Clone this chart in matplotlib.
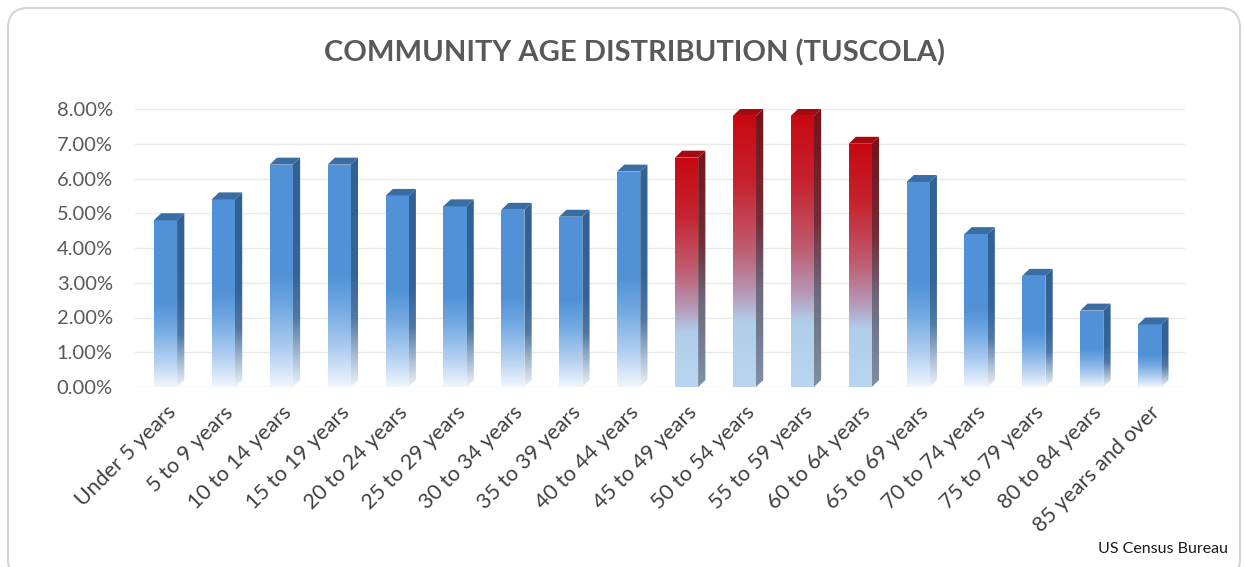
import numpy as np
import matplotlib
matplotlib.use("Agg")
import matplotlib.pyplot as plt
from matplotlib.colors import LinearSegmentedColormap
from matplotlib.patches import Polygon, FancyBboxPatch
from matplotlib.transforms import IdentityTransform

plt.rcParams['font.family'] = ['Lato', 'DejaVu Sans']

age_groups = ["Under 5 years", "5 to 9 years", "10 to 14 years", "15 to 19 years",
              "20 to 24 years", "25 to 29 years", "30 to 34 years", "35 to 39 years",
              "40 to 44 years", "45 to 49 years", "50 to 54 years", "55 to 59 years",
              "60 to 64 years", "65 to 69 years", "70 to 74 years", "75 to 79 years",
              "80 to 84 years", "85 years and over"]
share_pct = [4.9, 5.5, 6.5, 6.5, 5.6, 5.3, 5.2, 5.0, 6.3,
             6.7, 7.9, 7.9, 7.1, 6.0, 4.5, 3.3, 2.3, 1.9]
highlight = ["45 to 49 years", "50 to 54 years", "55 to 59 years", "60 to 64 years"]
y_ticks = [0, 1, 2, 3, 4, 5, 6, 7, 8]


def ramp(name, stops):
    return LinearSegmentedColormap.from_list(name, [(p, np.array(c) / 255) for p, c in stops])


# gradients run from the top of each face (0) to the floor (1)
blue_front = ramp("bf", [(0, (80, 145, 215)), (0.5, (82, 147, 216)), (0.64, (112, 168, 225)),
                         (0.84, (178, 207, 240)), (1, (240, 246, 253))])
blue_side = ramp("bs", [(0, (50, 97, 148)), (0.5, (52, 100, 152)), (0.7, (80, 120, 165)),
                        (0.88, (175, 194, 215)), (1, (238, 242, 247))])
red_front = ramp("rf", [(0, (200, 8, 18)), (0.25, (198, 35, 48)), (0.5, (190, 95, 115)),
                        (0.65, (182, 150, 180)), (0.76, (176, 205, 234)), (1, (185, 213, 240))])
red_side = ramp("rs", [(0, (118, 18, 24)), (0.4, (115, 45, 55)), (0.65, (110, 105, 125)),
                       (1, (125, 145, 165))])
blue_top = "#3A6DA3"
red_top = "#A50A12"

fig = plt.figure(figsize=(12.44, 5.67), dpi=100)
ax = fig.add_axes([135 / 1244, 180 / 567, 1050 / 1244, 278 / 567])

x = np.arange(len(age_groups))

for v in y_ticks:
    ax.axhline(v, color="#EAEAEA", lw=1.0, zorder=0)

half = 0.2     # half width of the front face
dx = 0.125     # depth shift to the right
dy = 0.2       # depth shift upwards


def shaded(poly, cmap, x0, x1, y0, y1):
    patch = Polygon(poly, closed=True, facecolor="none", edgecolor="none")
    ax.add_patch(patch)
    grad = np.linspace(0, 1, 256).reshape(-1, 1)
    im = ax.imshow(grad, cmap=cmap, extent=[x0, x1, y0, y1], aspect="auto",
                   origin="upper", interpolation="bicubic", zorder=2)
    im.set_clip_path(patch)


for xi, label, val in zip(x, age_groups, share_pct):
    hot = label in highlight
    front_c = red_front if hot else blue_front
    side_c = red_side if hot else blue_side
    top_c = red_top if hot else blue_top
    left, right = xi - half, xi + half
    top = val - dy / 2
    shaded([(left, 0), (right, 0), (right, top), (left, top)], front_c, left, right, 0, top)
    shaded([(right, 0), (right + dx, dy), (right + dx, top + dy), (right, top)],
           side_c, right, right + dx, 0, top + dy)
    ax.add_patch(Polygon([(left, top), (right, top), (right + dx, top + dy), (left + dx, top + dy)],
                         closed=True, facecolor=top_c, edgecolor="none", zorder=3))

ax.set_xlim(-0.527, 17.61)
ax.set_ylim(0, 8)
ax.set_yticks(y_ticks)
ax.set_yticklabels([f"{v:.2f}%" for v in y_ticks], fontsize=14.5, color="#595959")
ax.set_xticks(x)
ax.set_xticklabels(age_groups, rotation=45, ha="right", va="top", rotation_mode="anchor",
                   fontsize=15.5, color="#404040")
ax.tick_params(axis="y", length=0, pad=16)
ax.tick_params(axis="x", length=0, pad=11)
for s in ax.spines.values():
    s.set_visible(False)

fig.text(635 / 1244, 1 - 53 / 567, "COMMUNITY AGE DISTRIBUTION (TUSCOLA)", ha="center", va="center",
         fontsize=21, fontweight="bold", color="#595959")
fig.text(1228 / 1244, 1 - 553 / 567, "US Census Bureau", ha="right", va="baseline",
         fontsize=11.5, color="#1A1A1A")

frame = FancyBboxPatch((8, -12), 1232, 571, boxstyle="round,pad=0,rounding_size=20",
                       transform=IdentityTransform(), facecolor="none", edgecolor="#D4D4D4", lw=1.5)
fig.patches.append(frame)

fig.savefig("out.png", dpi=100)
